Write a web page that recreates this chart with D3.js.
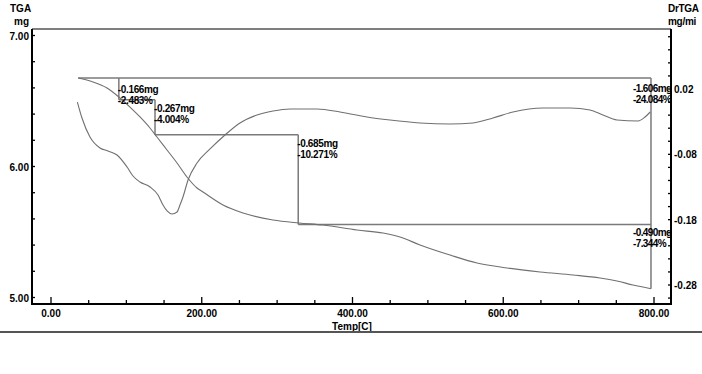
<!DOCTYPE html>
<html>
<head>
<meta charset="utf-8">
<script src="https://cdn.jsdelivr.net/npm/d3@7"></script>
<style>
html,body{margin:0;padding:0;background:#fff;}
svg{display:block;}
text{font-family:"Liberation Sans",Arial,sans-serif;font-weight:bold;fill:#000;}
</style>
</head>
<body>
<svg id="chart" width="702" height="374"></svg>
<script>
// ---------- DATA ----------
const tgaTemp = [36,55.7,74.3,91.5,104.8,118.1,131.3,140.6,153.9,167.2,180.4,193.7,201.7,228.2,254.7,294.5,329,360.9,406,440.5,463,489.6,529.4,565.2,605,648.8,692.5,728.4,750.9,772.1,796];
const tgaMass = [6.675,6.645,6.599,6.523,6.454,6.378,6.294,6.225,6.126,6.027,5.92,5.836,5.805,5.706,5.645,5.592,5.569,5.553,5.515,5.492,5.462,5.401,5.324,5.263,5.225,5.195,5.172,5.149,5.126,5.095,5.067];

const dtgTemp = [35,41.1,51.7,65,75.6,87.6,100.9,108.8,118.1,131.4,142,148.6,154,160.5,167.2,171.1,175.1,181.8,193.7,211,230.8,250.7,273.3,294.5,317.1,353.1,383.5,419.2,449.8,489.6,529.4,559.9,586.4,612.9,652.7,688.6,715.1,732.3,750.9,778.8,788.1,795];
const dtgRate = [0.000,-0.0244,-0.0535,-0.0703,-0.0749,-0.081,-0.0994,-0.1132,-0.1224,-0.13,-0.1423,-0.1576,-0.1667,-0.1713,-0.1683,-0.1576,-0.1453,-0.1193,-0.0933,-0.0718,-0.0504,-0.032,-0.0198,-0.0137,-0.0106,-0.0106,-0.0152,-0.0229,-0.0275,-0.032,-0.0336,-0.032,-0.0244,-0.0152,-0.0091,-0.0091,-0.0121,-0.0198,-0.0275,-0.029,-0.0229,-0.0152];

// step analysis: boundaries (temperature) and mass levels
const stepTemps = [36, 90, 138, 328, 796];
const stepMass  = [6.675, 6.509, 6.242, 5.557, 5.067];
const stepLossLabels = ["-0.166mg","-0.267mg","-0.685mg","-0.490mg"];
const stepPctLabels  = ["-2.483%","-4.004%","-10.271%","-7.344%"];
const totalLossLabel = "-1.606mg";
const totalPctLabel  = "-24.084%";

const xTicks = [0,200,400,600,800];
const xTickLabels = ["0.00","200.00","400.00","600.00","800.00"];
const yLeftTicks = [5,6,7];
const yLeftTickLabels = ["5.00","6.00","7.00"];
const yRightTicks = [0.02,-0.08,-0.18,-0.28];
const yRightTickLabels = ["0.02","-0.08","-0.18","-0.28"];

// ---------- LAYOUT ----------
const L = 32, R = 671, T = 29, B = 304;
const svg = d3.select("#chart");

const x = d3.scaleLinear().domain([0,800]).range([51,654]);
const yL = d3.scaleLinear().domain([5,7]).range([297.5,35.5]);
const yR = d3.scaleLinear().domain([-0.28,0.02]).range([285,89]);

const curveColor = "#707070";
const stepColor = "#7a7a7a";
const FS = 10;

// frame (top & axes)
svg.append("line").attr("x1",L).attr("x2",R).attr("y1",T).attr("y2",T).attr("stroke","#555").attr("stroke-width",1.5);
svg.append("line").attr("x1",L).attr("x2",L).attr("y1",T).attr("y2",B+1).attr("stroke","#000").attr("stroke-width",2);
svg.append("line").attr("x1",R).attr("x2",R).attr("y1",T).attr("y2",B+1).attr("stroke","#000").attr("stroke-width",2);
svg.append("line").attr("x1",L).attr("x2",R).attr("y1",B).attr("y2",B).attr("stroke","#000").attr("stroke-width",2);

// x minor/major ticks
const xMinor = d3.range(0,801,50);
svg.selectAll(".xt").data(xMinor).enter().append("line")
  .attr("x1",d=>x(d)).attr("x2",d=>x(d))
  .attr("y1",B).attr("y2",d=> d%200===0 ? B-7 : B-4)
  .attr("stroke","#000").attr("stroke-width",1.3);
svg.selectAll(".xl").data(xTicks).enter().append("text")
  .attr("x",d=>x(d)).attr("y",B+13).attr("text-anchor","middle")
  .attr("font-size",FS).text((d,i)=>xTickLabels[i]);
svg.append("text").attr("x",352).attr("y",330).attr("text-anchor","middle").attr("font-size",FS).text("Temp[C]");

// left ticks
const yLMinor = d3.range(5,7.01,0.2);
svg.selectAll(".ylt").data(yLMinor).enter().append("line")
  .attr("x1",L-1).attr("x2",L+3)
  .attr("y1",d=>yL(d)).attr("y2",d=>yL(d))
  .attr("stroke","#000").attr("stroke-width",1.3);
svg.selectAll(".yll").data(yLeftTicks).enter().append("text")
  .attr("x",L-3).attr("y",d=>yL(d)+4).attr("text-anchor","end")
  .attr("font-size",FS).text((d,i)=>yLeftTickLabels[i]);
svg.append("text").attr("x",10).attr("y",12).attr("font-size",FS).text("TGA");
svg.append("text").attr("x",14).attr("y",25).attr("font-size",FS).text("mg");

// right ticks
const yRMinor = d3.range(-0.30,0.101,0.02);
svg.selectAll(".yrt").data(yRMinor).enter().append("line")
  .attr("x1",R-3).attr("x2",R+1)
  .attr("y1",d=>yR(d)).attr("y2",d=>yR(d))
  .attr("stroke","#000").attr("stroke-width",1.3);
svg.selectAll(".yrl").data(yRightTicks).enter().append("text")
  .attr("x",R+3).attr("y",d=>yR(d)+4).attr("text-anchor","start")
  .attr("font-size",FS).text((d,i)=>yRightTickLabels[i]);
svg.append("text").attr("x",668).attr("y",12).attr("font-size",FS).attr("letter-spacing",-0.3).text("DrTGA");
svg.append("text").attr("x",668).attr("y",25).attr("font-size",FS).attr("letter-spacing",-0.3).text("mg/mi");

// step lines
const g = svg.append("g").attr("stroke",stepColor).attr("stroke-width",1.5).attr("fill","none");
const n = stepTemps.length;
g.append("line").attr("x1",x(stepTemps[0])).attr("x2",x(stepTemps[n-1])).attr("y1",yL(stepMass[0])).attr("y2",yL(stepMass[0]));
for (let i=1;i<n-1;i++){
  g.append("line").attr("x1",x(stepTemps[i])).attr("x2",x(stepTemps[i])).attr("y1",yL(stepMass[i-1])).attr("y2",yL(stepMass[i]));
  g.append("line").attr("x1",x(stepTemps[i])).attr("x2",x(stepTemps[i+1])).attr("y1",yL(stepMass[i])).attr("y2",yL(stepMass[i]));
}
g.append("line").attr("x1",x(stepTemps[n-1])).attr("x2",x(stepTemps[n-1])).attr("y1",yL(stepMass[0])).attr("y2",yL(stepMass[n-1]));

// curves
const lineT = d3.line().x((d,i)=>x(tgaTemp[i])).y(d=>yL(d)).curve(d3.curveMonotoneX);
svg.append("path").datum(tgaMass).attr("d",lineT).attr("fill","none").attr("stroke",curveColor).attr("stroke-width",1.1);
const lineD = d3.line().x((d,i)=>x(dtgTemp[i])).y(d=>yR(d)).curve(d3.curveMonotoneX);
svg.append("path").datum(dtgRate).attr("d",lineD).attr("fill","none").attr("stroke",curveColor).attr("stroke-width",1.1);

// step labels
svg.append("clipPath").attr("id","cp").append("rect").attr("x",0).attr("y",0).attr("width",R+1).attr("height",374);
const lg = svg.append("g").attr("font-size",FS).attr("letter-spacing",-0.35);
function labelPair(xp, y1, t1, t2, clipIt, ls){
  const gg = lg.append("g"); if (clipIt) gg.attr("clip-path","url(#cp)");
  if (ls !== undefined) gg.attr("letter-spacing", ls);
  gg.append("text").attr("x",xp).attr("y",y1).text(t1);
  gg.append("text").attr("x",xp).attr("y",y1+11).text(t2);
}
labelPair(x(stepTemps[1])-1, yL(stepMass[1])-7, stepLossLabels[0], stepPctLabels[0]);
labelPair(x(stepTemps[2])-1, yL(stepMass[1])+12, stepLossLabels[1], stepPctLabels[1]);
labelPair(x(stepTemps[3])-1, yL(stepMass[2])+12, stepLossLabels[2], stepPctLabels[2]);
labelPair(x(stepTemps[4])-18, yL(stepMass[0])+14, totalLossLabel, totalPctLabel, true, -0.6);
labelPair(x(stepTemps[4])-18, yL(stepMass[3])+11, stepLossLabels[3], stepPctLabels[3], true, -0.6);

// bottom separator
svg.append("line").attr("x1",0).attr("x2",702).attr("y1",332).attr("y2",332).attr("stroke","#555").attr("stroke-width",2);
</script>
</body>
</html>
